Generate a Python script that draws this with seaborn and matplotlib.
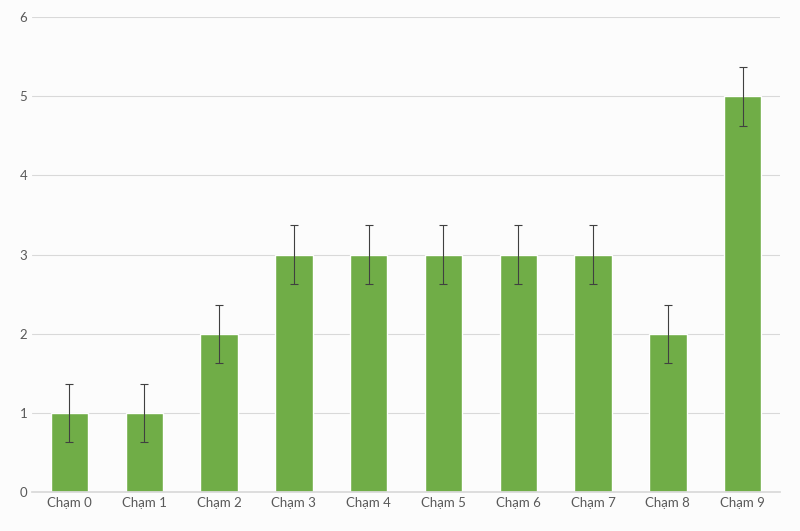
import matplotlib
matplotlib.use("Agg")
import matplotlib.pyplot as plt
import seaborn as sns
import pandas as pd

categories = ["Chạm 0", "Chạm 1", "Chạm 2", "Chạm 3", "Chạm 4",
              "Chạm 5", "Chạm 6", "Chạm 7", "Chạm 8", "Chạm 9"]
values = [1, 1, 2, 3, 3, 3, 3, 3, 2, 5]
errors = [0.37] * 10

df = pd.DataFrame({"cat": categories, "val": values})

sns.set_theme(style="white")
plt.rcParams['font.family'] = ['Lato', 'DejaVu Sans']

fig = plt.figure(figsize=(8, 5.31), dpi=100, facecolor="#fcfcfc")
ax = fig.add_axes([0.04, 0.073, 0.935, 0.895])
ax.set_facecolor("#fcfcfc")

sns.barplot(data=df, x="cat", y="val", color="#70ad47", width=0.5,
            saturation=1, errorbar=None, ax=ax, zorder=2)
ax.errorbar(range(len(values)), values, yerr=errors, fmt="none",
            ecolor="#404040", elinewidth=0.8, capsize=3, capthick=0.8, zorder=3)

ax.set_ylim(0, 6)
ax.set_xlim(-0.5, len(values) - 0.5)
ax.yaxis.grid(True, color="#d9d9d9", linewidth=0.8, zorder=0)
ax.set_axisbelow(True)
for s in ["top", "right", "left"]:
    ax.spines[s].set_visible(False)
ax.spines["bottom"].set_color("#d9d9d9")
ax.set_xlabel("")
ax.set_ylabel("")
ax.tick_params(axis="both", length=0, labelsize=9.5, colors="#595959")

fig.savefig("out.png", dpi=100, facecolor=fig.get_facecolor())
